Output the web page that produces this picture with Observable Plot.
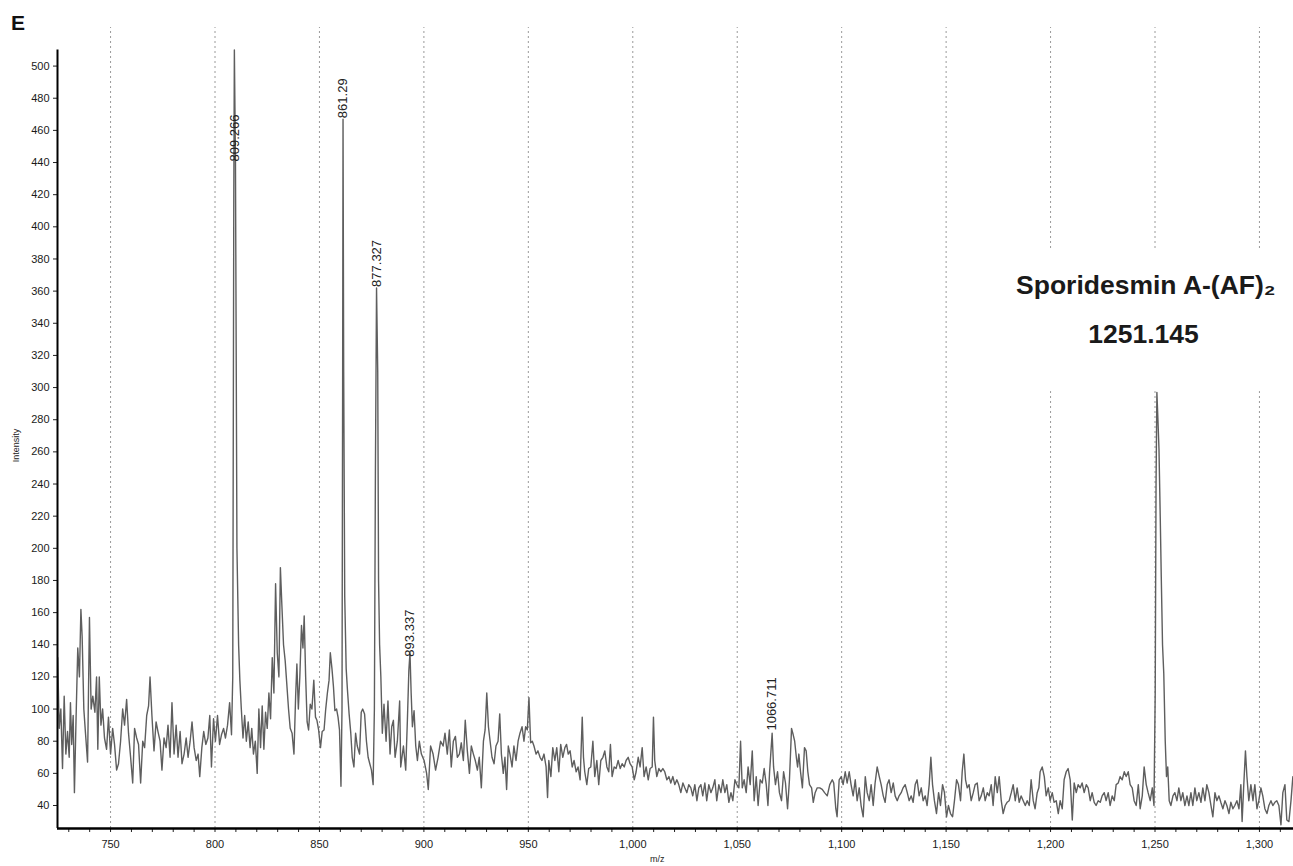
<!DOCTYPE html>
<html><head><meta charset="utf-8">
<script src="https://cdn.jsdelivr.net/npm/d3@7"></script>
<script src="https://cdn.jsdelivr.net/npm/@observablehq/plot@0.6"></script>
<style>
body{margin:0;background:#fff;}
#chart{position:relative;width:1293px;height:866px;overflow:hidden;}
#chart svg{position:absolute;left:0;top:0;}
.lab{position:absolute;font-family:"Liberation Sans",Arial,sans-serif;color:#222;line-height:1;white-space:nowrap;}
</style>
</head><body>
<div id="chart"></div>
<script>
// ---- data ----
const panelLabel = "E";
const xTitle = "m/z";
const yTitle = "Intensity";
const xMajorTicks = [750, 800, 850, 900, 950, 1000, 1050, 1100, 1150, 1200, 1250, 1300];
const yTicks = [40, 60, 80, 100, 120, 140, 160, 180, 200, 220, 240, 260, 280, 300, 320, 340, 360, 380, 400, 420, 440, 460, 480, 500];
const peakLabels = [
  {mz: 809.266, at: 440, label: "809.266"},
  {mz: 861.29, at: 467, label: "861.29"},
  {mz: 877.327, at: 362, label: "877.327"},
  {mz: 893.337, at: 132, label: "893.337"},
  {mz: 1066.711, at: 86, label: "1066.711"}
];
const annotationLines = ["Sporidesmin A-(AF)\u2082", "1251.145"];
// spectrum: [m/z, intensity]
const spectrum = [
[724.7,132],[725.4,88],[726.2,100],[727.0,63],[727.8,108],[728.6,72],[729.4,86],[730.2,70],[730.8,104],[731.4,78],[732.1,96],[732.7,48],[733.5,95],[734.3,138],[735.1,120],[735.8,162],[736.4,145],[737.2,100],[738.0,85],[739.0,67],[739.9,157],[740.7,100],[741.5,108],[742.5,98],[743.3,120],[743.9,75],[744.6,120],[745.4,90],[746.2,100],[747.1,82],[748.1,75],[749.0,95],[750.0,72],[751.0,88],[751.9,78],[752.9,62],[753.8,66],[754.8,80],[755.8,100],[756.7,90],[757.7,106],[758.6,85],[759.6,70],[760.6,54],[761.5,88],[762.5,82],[763.4,78],[764.4,54],[765.4,80],[766.3,76],[767.3,96],[768.2,102],[768.9,120],[769.8,96],[770.8,74],[771.8,92],[772.7,86],[773.7,80],[774.6,62],[775.6,82],[776.6,76],[777.5,90],[778.5,70],[779.4,104],[780.4,72],[781.4,90],[782.3,70],[783.3,86],[784.2,66],[785.2,72],[786.2,82],[787.1,70],[788.1,80],[789.0,92],[790.0,76],[791.0,68],[791.9,72],[792.7,58],[793.7,76],[794.6,86],[795.6,78],[796.6,82],[797.5,96],[798.3,64],[799.3,94],[800.2,80],[801.2,96],[802.2,78],[803.1,84],[804.1,88],[805.0,82],[806.0,90],[807.0,104],[807.9,84],
[808.5,120],[809.0,420],[809.27,510],[809.8,440],[810.5,200],[811.3,140],[811.9,118],[812.6,100],[813.4,82],[814.2,96],[815.0,80],[815.9,92],[816.8,76],[817.6,88],[818.4,72],[819.3,80],[820.2,60],[821.0,100],[821.8,76],[822.6,102],[823.4,75],[824.2,98],[825.0,88],[825.8,110],[826.6,94],[827.4,132],[828.2,110],[829.0,178],[829.8,135],[830.6,120],[831.3,188],[832.0,165],[832.8,140],[833.6,130],[834.4,115],[835.2,100],[836.0,88],[836.9,85],[837.8,72],[838.6,108],[839.2,128],[839.9,100],[840.6,120],[841.4,152],[842.1,138],[842.7,158],[843.4,120],[844.1,92],[844.8,87],[845.6,103],[846.4,100],[847.3,118],[848.1,95],[848.8,93],[849.6,87],[850.5,76],[851.3,86],[852.2,87],[853.0,100],[853.8,110],[854.6,118],[855.2,135],[856.0,125],[856.7,114],[857.4,99],[858.2,100],[858.9,95],[859.6,87],[860.3,52],[860.8,100],[861.1,300],[861.29,467],[861.6,310],[862.1,170],[862.8,125],[863.4,112],[864.2,97],[865.0,85],[865.7,70],[866.5,64],[867.3,85],[868.1,77],[869.2,72],[870.0,98],[870.7,100],[871.6,97],[872.5,80],[873.3,70],[874.1,66],[874.9,62],[875.7,53],[876.3,100],[876.8,250],[877.33,362],[877.9,310],[878.3,180],[878.8,140],[879.4,120],[880.1,85],[880.9,103],[881.9,80],[882.8,105],[883.8,72],[884.6,89],[885.4,93],[886.2,70],[887.3,80],[888.4,105],[888.9,64],[890.2,77],[891.3,62],[892.1,93],[892.8,124],[893.34,135],[893.9,110],[894.5,89],[895.3,99],[896.1,77],[896.9,68],[897.8,80],[898.8,72],[900.1,68],[901.3,60],[902.1,50],[903.2,77],
[904.4,72],[905.6,62],[906.8,70],[908.0,80],[909.2,77],[910.1,85],[911.2,72],[912.2,87],[913.1,64],[914.1,80],[915.1,83],[916.0,70],[917.0,72],[917.9,79],[918.9,68],[919.8,93],[920.8,74],[921.8,60],[922.7,77],[923.7,72],[924.6,68],[925.6,62],[926.5,70],[927.5,51],[928.5,80],[929.3,87],[930.1,110],[930.9,89],[931.7,80],[932.6,70],[933.6,66],[934.5,77],[935.5,80],[936.3,97],[937.1,72],[938.0,60],[938.8,70],[939.6,50],[940.4,77],[941.2,72],[942.2,64],[943.1,77],[944.1,68],[945.1,80],[946.0,85],[947.0,89],[947.9,80],[948.7,89],[949.5,87],[950.3,107],[951.1,79],[951.9,80],[952.7,77],[953.7,72],[954.6,74],[955.6,70],[956.5,68],[957.5,72],[958.5,64],[959.2,45],[959.8,68],[960.8,58],[961.7,76],[962.7,68],[963.6,76],[964.6,61],[965.5,78],[966.5,70],[967.5,76],[968.3,78],[969.1,72],[970.0,74],[971.0,64],[971.9,68],[972.9,61],[973.8,64],[974.8,56],[975.8,95],[976.4,70],[977.0,61],[978.0,53],[978.9,63],[979.9,64],[980.9,80],[981.8,58],[982.8,68],[983.7,53],[984.7,68],[985.7,70],[986.6,74],[987.6,64],[988.5,61],[989.3,78],[990.1,58],[991.1,64],[992.0,63],[993.0,68],[994.0,63],[994.9,66],[995.9,64],[996.8,68],[997.8,70],[998.7,66],[999.7,64],[1000.7,56],[1001.6,61],[1002.6,70],[1003.5,64],[1004.5,76],[1005.4,58],[1006.4,64],[1007.4,56],[1008.3,63],[1009.3,64],[1009.9,95],[1010.5,68],[1011.5,58],[1012.5,63],[1013.4,61],[1014.4,63],[1015.3,61],[1016.3,56],[1017.3,58],[1018.2,54],[1019.2,58],[1020.1,53],[1021.1,56],[1022.0,53],[1023.0,48],[1024.0,54],[1024.9,51],[1025.9,48],[1026.8,53],[1027.8,51],[1028.7,46],[1029.7,53],[1030.7,43],[1031.6,51],[1032.6,53],[1033.5,46],[1034.5,54],[1035.4,43],[1036.4,53],[1037.4,48],[1038.3,51],[1039.3,56],[1040.2,43],[1041.2,53],[1042.2,48],[1043.1,56],[1044.1,48],[1045.0,53],[1046.0,42],[1047.0,48],[1047.9,43],[1048.9,56],[1049.8,53],[1050.8,51],[1051.6,80],[1052.4,51],[1053.3,56],[1054.3,48],[1055.2,64],[1056.2,53],[1057.2,74],[1058.1,43],[1059.1,58],[1060.0,40],[1061.0,56],[1062.0,54],[1062.9,63],[1063.9,53],[1064.7,40],[1065.5,61],[1066.71,85],[1067.4,64],[1068.3,53],[1069.3,61],[1070.2,48],[1071.2,43],[1072.2,61],[1073.1,54],[1074.1,38],[1075.0,56],[1076.0,88],[1076.8,84],[1077.5,80],[1078.3,70],[1078.9,64],[1079.5,72],[1080.3,61],[1081.2,51],[1082.2,76],[1083.0,74],[1083.8,61],[1084.6,53],[1085.6,51],[1086.4,42],[1087.3,48],[1088.3,51],[1089.5,51],[1090.7,50],[1091.8,48],[1093.1,46],[1094.3,53],[1095.5,56],[1096.2,54],[1097.2,38],[1097.8,33],[1098.8,56],[1099.8,58],
[1100.7,53],[1101.7,61],[1102.6,54],[1103.6,61],[1104.5,53],[1105.5,46],[1106.5,56],[1107.4,43],[1108.4,51],[1109.3,40],[1110.3,33],[1111.3,58],[1112.2,48],[1113.2,43],[1114.1,53],[1115.1,40],[1116.0,54],[1117.0,64],[1118.0,58],[1118.9,53],[1119.9,46],[1120.8,42],[1121.8,53],[1122.7,56],[1123.7,48],[1124.7,54],[1125.6,46],[1126.6,43],[1127.5,46],[1128.5,48],[1129.4,51],[1130.4,53],[1131.4,48],[1132.3,43],[1133.3,46],[1134.2,42],[1135.2,53],[1136.1,56],[1137.1,46],[1138.1,51],[1139.0,43],[1140.0,46],[1140.9,40],[1141.9,53],[1142.7,70],[1143.5,53],[1144.4,43],[1145.4,35],[1146.4,48],[1147.3,40],[1148.3,53],[1149.2,48],[1150.2,33],[1151.1,40],[1152.1,35],[1153.1,33],[1154.0,43],[1155.0,56],[1155.9,53],[1156.9,43],[1157.7,61],[1158.5,72],[1159.3,56],[1160.1,51],[1161.0,53],[1162.0,43],[1163.0,48],[1163.9,53],[1164.9,54],[1165.8,43],[1166.8,46],[1167.8,51],[1168.7,43],[1169.7,48],[1170.6,46],[1171.6,53],[1172.5,40],[1173.5,58],[1174.5,48],[1175.4,58],[1176.4,43],[1177.3,35],[1178.3,40],[1179.2,42],[1180.2,43],[1181.2,48],[1182.1,53],[1183.1,43],[1184.0,51],[1185.0,42],[1185.9,46],[1186.9,43],[1187.9,40],[1188.8,43],[1189.8,40],[1190.7,56],[1191.7,43],[1192.6,38],[1193.6,48],[1194.4,51],[1195.0,61],[1196.0,64],[1197.0,58],[1197.9,46],[1198.9,51],[1199.8,43],[1200.8,48],[1201.7,42],[1202.7,43],[1203.7,35],[1204.6,43],[1205.6,38],[1206.5,56],[1207.5,61],[1208.4,63],[1209.4,56],[1210.4,31],[1211.3,54],[1212.3,48],[1213.2,53],[1214.2,51],[1215.1,54],[1216.1,48],[1217.1,53],[1218.0,51],[1219.0,43],[1219.9,48],[1220.9,42],[1221.8,40],[1222.8,43],[1223.8,42],[1224.7,46],[1225.7,48],[1226.6,43],[1227.6,48],[1228.5,40],[1229.5,46],[1230.5,43],[1231.4,53],[1232.4,54],[1233.3,58],[1234.3,56],[1235.3,61],[1236.2,58],[1237.2,61],[1238.1,53],[1239.1,51],[1240.0,43],[1241.0,40],[1242.0,53],[1242.9,38],[1243.9,46],[1244.8,64],[1245.8,53],[1246.7,48],[1247.7,43],[1248.7,51],[1249.5,40],[1250.1,110],[1250.5,240],[1250.9,297],[1251.4,280],[1251.9,262],[1252.5,220],[1253.0,182],[1253.6,140],[1254.2,122],[1254.9,80],[1255.5,58],[1256.1,64],[1256.8,43],[1257.6,40],[1258.6,46],[1259.5,48],[1260.5,43],[1261.4,51],[1262.4,43],[1263.3,48],[1264.3,40],[1265.3,46],[1266.2,40],[1267.2,48],[1268.1,40],[1269.1,51],[1270.0,43],[1271.0,48],[1272.0,42],[1272.9,51],[1273.9,43],[1274.8,53],[1275.8,48],[1276.8,40],[1277.7,33],[1278.7,48],[1279.6,43],[1280.6,46],[1281.5,42],[1282.5,38],[1283.5,43],[1284.4,40],[1285.4,35],[1286.3,42],[1287.3,38],[1288.2,40],[1289.2,43],[1290.2,38],[1291.1,53],[1291.7,30],[1292.5,53],[1293.3,74],[1294.0,58],[1294.9,43],[1295.9,53],[1296.9,43],[1297.8,53],[1298.8,38],[1299.7,43],[1300.7,51],[1301.6,46],[1302.6,38],[1303.6,35],[1304.5,40],[1305.5,43],[1306.4,40],[1307.4,42],[1308.3,43],[1309.3,40],[1310.3,28],[1311.2,48],[1312.2,53],[1313.1,31],[1314.1,30],[1315.1,43],[1316.0,58]
];

// ---- chart ----
const xDomain = [724.6, 1316.3];
const yDomain = [25.7, 524];
const yAxisTop = 510;
const xMinorTicks = d3.range(730, 1316, 10);
const fmt = d3.format(",");
const font = '"Liberation Sans", Arial, sans-serif';

const chart = Plot.plot({
  width: 1293, height: 866,
  marginLeft: 57, marginRight: 0, marginTop: 27, marginBottom: 38,
  style: {fontFamily: font, fontSize: "11px", color: "#222", background: "white", overflow: "visible"},
  x: {domain: xDomain},
  y: {domain: yDomain},
  marks: [
    Plot.ruleX(xMajorTicks, {x: d => d, y1: yDomain[0], y2: yDomain[1], stroke: "#9a9a9a", strokeWidth: 1, strokeDasharray: "2,3"}),
    Plot.rect([0], {x1: 1195, x2: 1316.3, y1: 297.5, y2: 385, fill: "white"}),
    Plot.line(spectrum, {x: d => d[0], y: d => d[1], stroke: "#5e5e5e", strokeWidth: 1.4}),
    Plot.text(peakLabels, {x: "mz", y: "at", text: "label", rotate: -90, textAnchor: "start", fontSize: 13, fill: "#222", dy: -1}),
    Plot.text([annotationLines[0]], {x: 1245.6, y: 363.6, text: d => d, fontSize: 26.5, fontWeight: "bold", fill: "#1a1a1a"}),
    Plot.text([annotationLines[1]], {x: 1244.5, y: 333, text: d => d, fontSize: 26.5, fontWeight: "bold", fill: "#1a1a1a"}),
    Plot.axisY(yTicks, {tickSize: 4, tickPadding: 4, fontSize: 11, label: null, fill: "#1a1a1a"}),
    Plot.axisX(xMajorTicks, {tickSize: 0, tickPadding: 12, tickFormat: fmt, fontSize: 11, label: null, fill: "#1a1a1a"}),
    Plot.axisX(xMinorTicks, {tickSize: 4, tickFormat: () => "", label: null}),
    Plot.ruleX([xDomain[0]], {y1: yDomain[0], y2: yAxisTop, stroke: "black", strokeWidth: 2}),
    Plot.ruleY([yDomain[0]], {stroke: "black", strokeWidth: 2.5})
  ]
});
const holder = document.getElementById("chart");
holder.appendChild(chart);

function addLabel(text, css) {
  const d = document.createElement("div");
  d.className = "lab";
  d.textContent = text;
  Object.assign(d.style, css);
  holder.appendChild(d);
}
addLabel(panelLabel, {left: "11px", top: "12px", fontSize: "21px", fontWeight: "bold", color: "#111"});
addLabel(xTitle, {left: "650px", top: "855px", fontSize: "9px"});
addLabel(yTitle, {left: "-4px", top: "441px", fontSize: "9px", transform: "rotate(-90deg)", transformOrigin: "50% 50%", width: "40px", textAlign: "center"});
</script>
</body></html>
